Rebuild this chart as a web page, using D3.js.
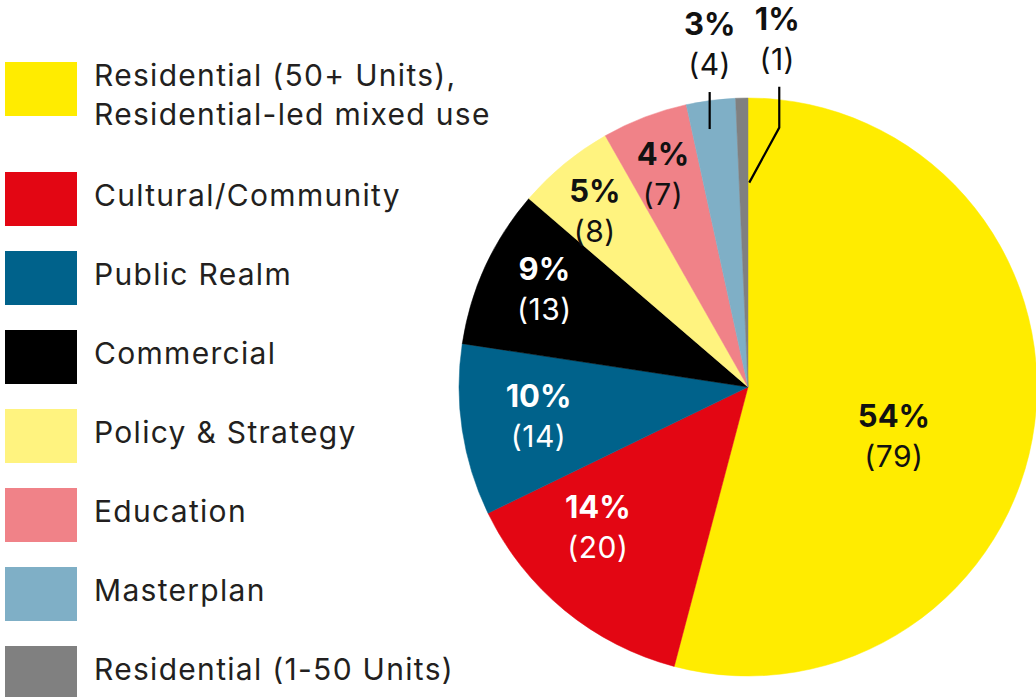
<html>
<meta http-equiv="content-type" content="text/html; charset=UTF8">
<style>
  body {margin:0; background:#fff;}
  svg text {font-family: Inter, Roboto, sans-serif;}
</style>
<body>
<svg id="svg1" width="1036" height="697"></svg>

<script src="https://cdn.jsdelivr.net/npm/d3@7"></script>
<script>
// data
var categories=["Residential (50+ Units),|Residential-led mixed use","Cultural/Community","Public Realm","Commercial","Policy & Strategy","Education","Masterplan","Residential (1-50 Units)"];
var counts=[79,20,14,13,8,7,4,1];
var percents=["54%","14%","10%","9%","5%","4%","3%","1%"];
var colors=["#ffec00","#e30613","#00628b","#000000","#fff37f","#f08288","#7fafc6","#808080"];
var labelColors=["#111","#fff","#fff","#fff","#111","#111","#111","#111"];

// label nudges from the arc centroid (layout only)
var nudge=[[-26,18],[-40,-3],[-38,-6],[-46,-35],[-43,-51],[-23,-60],[-16,-180],[33,-184]];
// leader lines, offsets from the label anchor
var leaders={6:[[0,57],[0,94]],7:[[2,57],[2,98],[-28,153]]};

var cx=748,cy=387,radius=289;
var svg=d3.select("#svg1");

var data=counts.map(function(c,i){
	return {name:categories[i],count:c,pct:percents[i],color:colors[i],lc:labelColors[i],idx:i};
});

var pie=d3.pie().sort(null).value(function(d){return d.count});
var arc=d3.arc().innerRadius(0).outerRadius(radius);
var labelArc=d3.arc().innerRadius(radius*0.6).outerRadius(radius*0.6);

var g=svg.append("g").attr("transform","translate("+cx+","+cy+")");
var arcs=pie(data);

g.selectAll("path").data(arcs).enter().append("path")
	.attr("d",arc)
	.attr("fill",function(d){return d.data.color})
	.attr("stroke",function(d){return d.data.color})
	.attr("stroke-width",0.5);

var lab=g.selectAll("g.lab").data(arcs).enter().append("g").attr("class","lab")
	.attr("transform",function(d,i){
		var c=labelArc.centroid(d);
		return "translate("+(c[0]+nudge[i][0])+","+(c[1]+nudge[i][1])+")";
	});
lab.append("text")
	.attr("text-anchor","middle")
	.style("font-weight","700")
	.style("font-size","31px")
	.attr("fill",function(d){return d.data.lc})
	.text(function(d){return d.data.pct});
lab.append("text")
	.attr("text-anchor","middle")
	.attr("y",40)
	.style("font-size","30px")
	.style("font-weight","400")
	.style("letter-spacing","0.5px")
	.attr("fill",function(d){return d.data.lc})
	.text(function(d){return "("+d.data.count+")"});

lab.filter(function(d){return leaders[d.data.idx]}).append("path")
	.attr("d",function(d){return d3.line()(leaders[d.data.idx])})
	.attr("fill","none")
	.attr("stroke","#000")
	.attr("stroke-width",2.2);

// legend
var legY=function(i){return 62+i*79+(i>0?31:0)};
var leg=svg.selectAll("g.leg").data(data).enter().append("g").attr("class","leg")
	.attr("transform",function(d,i){return "translate(5,"+legY(i)+")"});
leg.append("rect")
	.attr("width",72).attr("height",54)
	.attr("fill",function(d){return d.color});
leg.each(function(d){
	var lines=d.name.split("|");
	var t=d3.select(this).append("text")
		.attr("x",89)
		.attr("fill","#231f20")
		.style("font-size","30px")
		.style("letter-spacing","1.3px");
	lines.forEach(function(l,k){
		t.append("tspan").attr("x",89).attr("y",(lines.length>1?24:34)+k*39).text(l);
	});
});
</script>
</html>
